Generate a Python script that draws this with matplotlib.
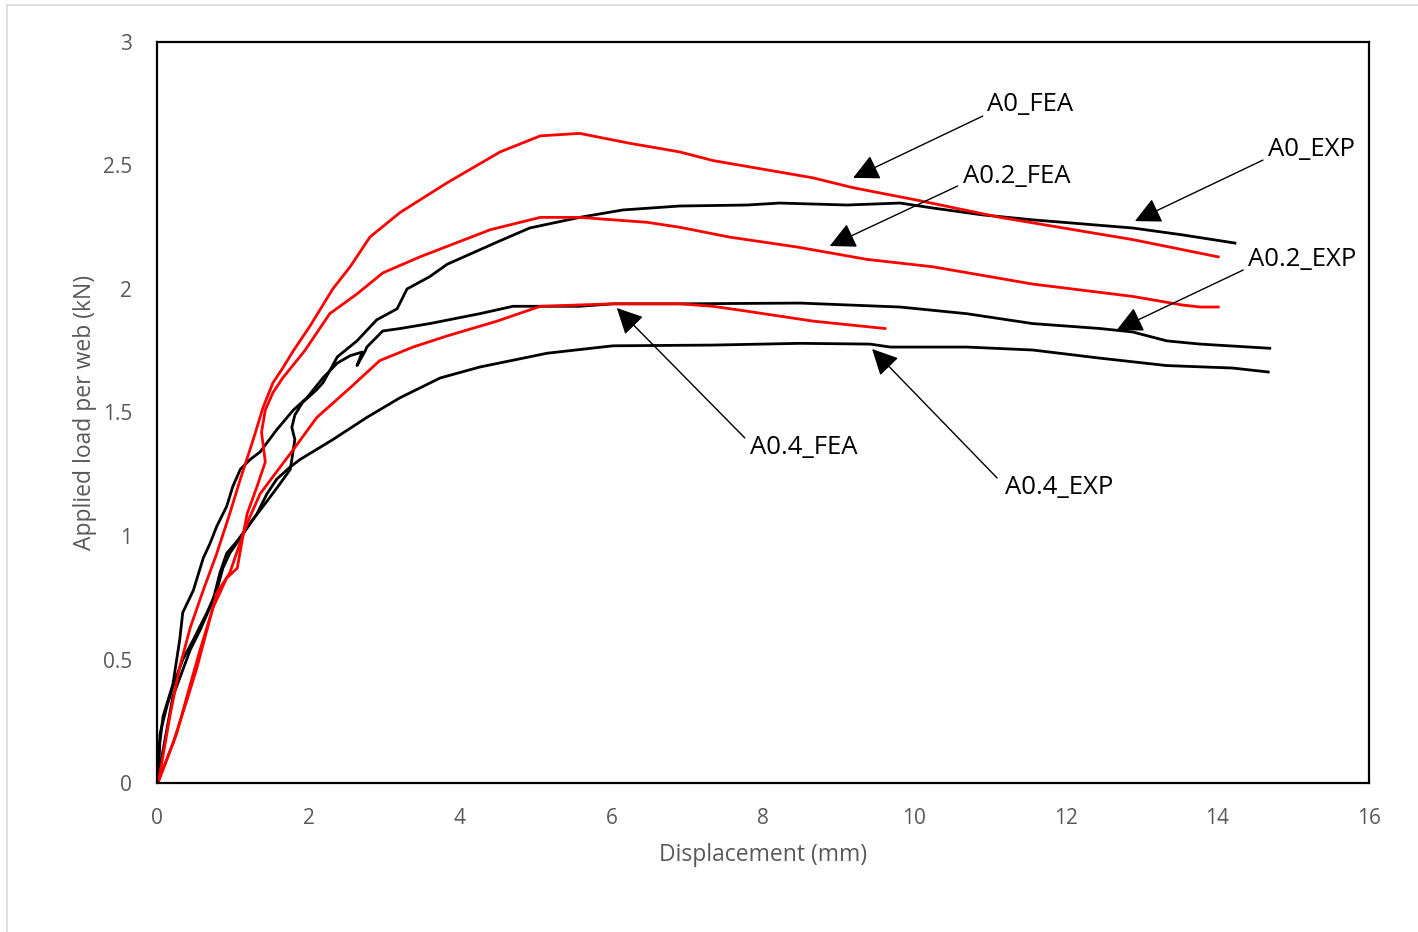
import numpy as np
import matplotlib
matplotlib.use("Agg")
import matplotlib.pyplot as plt
from matplotlib.lines import Line2D

plt.rcParams['font.family'] = ['Open Sans', 'DejaVu Sans']

# load-displacement curves (x: mm, y: kN)
a0_fea_x = [0.01, 0.04, 0.17, 0.30, 0.44, 0.61, 0.79, 0.96, 1.10, 1.27, 1.40, 1.53, 1.66, 1.80,
            2.02, 2.32, 2.55, 2.81, 3.21, 3.83, 4.53, 5.06, 5.58, 6.24, 6.90, 7.34, 8.66, 9.19,
            10.03, 11.13, 12.88, 14.01]
a0_fea_y = [0.0, 0.04, 0.27, 0.47, 0.63, 0.78, 0.93, 1.09, 1.23, 1.39, 1.52, 1.62, 1.68, 1.75,
            1.85, 2.00, 2.09, 2.21, 2.31, 2.43, 2.555, 2.62, 2.63, 2.59, 2.555, 2.52, 2.45, 2.41,
            2.36, 2.29, 2.20, 2.13]

a02_fea_x = [0.01, 0.26, 0.44, 0.57, 0.74, 0.92, 1.06, 1.14, 1.19, 1.32, 1.43, 1.38, 1.43, 1.53,
             1.66, 1.95, 2.28, 2.64, 2.98, 3.47, 4.40, 5.06, 5.58, 6.47, 6.90, 7.56, 8.45, 9.37,
             10.24, 11.56, 12.88, 13.54, 13.77, 14.01]
a02_fea_y = [0.0, 0.20, 0.40, 0.54, 0.71, 0.83, 0.87, 1.01, 1.09, 1.20, 1.30, 1.42, 1.51, 1.58,
             1.64, 1.75, 1.90, 1.98, 2.065, 2.13, 2.24, 2.29, 2.29, 2.27, 2.25, 2.21, 2.17, 2.12,
             2.09, 2.02, 1.97, 1.935, 1.927, 1.927]

a04_fea_x = [0.01, 0.21, 0.40, 0.53, 0.66, 0.79, 0.96, 1.14, 1.23, 1.36, 1.53, 1.80, 2.11, 2.55,
             2.94, 3.38, 3.83, 4.49, 5.06, 6.02, 6.90, 7.34, 7.79, 8.66, 9.61]
a04_fea_y = [0.0, 0.16, 0.34, 0.47, 0.62, 0.77, 0.85, 1.01, 1.08, 1.17, 1.24, 1.35, 1.48, 1.60,
             1.71, 1.765, 1.81, 1.87, 1.93, 1.94, 1.94, 1.93, 1.91, 1.87, 1.84]

a0_exp_x = [0.0, 0.21, 0.44, 0.57, 0.74, 0.83, 0.92, 1.06, 1.25, 1.45, 1.62, 1.76, 1.82, 1.78,
            1.82, 1.92, 2.10, 2.19, 2.30, 2.38, 2.64, 2.90, 3.17, 3.30, 3.60, 3.83, 4.49, 4.92,
            5.58, 6.15, 6.90, 7.79, 8.22, 9.11, 9.81, 10.24, 10.90, 11.56, 12.88, 13.54, 14.23]
a0_exp_y = [0.0, 0.35, 0.54, 0.62, 0.74, 0.85, 0.93, 0.98, 1.06, 1.14, 1.21, 1.27, 1.39, 1.44,
            1.49, 1.54, 1.59, 1.62, 1.68, 1.725, 1.79, 1.875, 1.92, 2.00, 2.05, 2.10, 2.19, 2.247,
            2.29, 2.32, 2.336, 2.34, 2.348, 2.34, 2.348, 2.328, 2.30, 2.28, 2.247, 2.219, 2.186]

a02_exp_x = [0.0, 0.04, 0.08, 0.21, 0.30, 0.34, 0.48, 0.61, 0.70, 0.79, 0.92, 1.00, 1.10, 1.23,
             1.36, 1.58, 1.80, 1.98, 2.19, 2.38, 2.55, 2.71, 2.64, 2.75, 2.77, 2.98, 3.21, 3.60,
             4.26, 4.70, 5.58, 6.02, 6.90, 8.49, 9.81, 10.69, 11.56, 12.45, 12.88, 13.33, 13.77,
             14.69]
a02_exp_y = [0.0, 0.17, 0.27, 0.40, 0.58, 0.69, 0.78, 0.91, 0.97, 1.04, 1.12, 1.20, 1.27, 1.31,
             1.34, 1.43, 1.51, 1.56, 1.64, 1.70, 1.73, 1.745, 1.69, 1.75, 1.765, 1.83, 1.84, 1.86,
             1.90, 1.93, 1.93, 1.94, 1.94, 1.943, 1.927, 1.90, 1.86, 1.84, 1.826, 1.79, 1.777,
             1.76]

a04_exp_x = [0.01, 0.04, 0.13, 0.21, 0.34, 0.48, 0.66, 0.79, 0.87, 0.96, 1.14, 1.32, 1.45, 1.58,
             1.76, 1.89, 2.32, 2.77, 3.21, 3.74, 4.26, 5.15, 6.02, 7.34, 8.49, 9.41, 9.68, 10.69,
             11.56, 12.45, 13.33, 14.20, 14.67]
a04_exp_y = [0.01, 0.20, 0.31, 0.39, 0.50, 0.58, 0.69, 0.78, 0.87, 0.93, 1.01, 1.09, 1.17, 1.23,
             1.28, 1.31, 1.39, 1.48, 1.56, 1.64, 1.684, 1.74, 1.77, 1.773, 1.78, 1.777, 1.765,
             1.765, 1.753, 1.72, 1.69, 1.68, 1.664]

# call-out labels: text anchor, arrow tail, arrow head (data coords)
labels = ['A0_FEA', 'A0.2_FEA', 'A0_EXP', 'A0.2_EXP', 'A0.4_FEA', 'A0.4_EXP']
label_pos = [(10.96, 2.745), (10.64, 2.457), (14.67, 2.563), (14.40, 2.12), (7.83, 1.36), (11.19, 1.198)]
arrow_tail = [(10.90, 2.70), (10.57, 2.417), (14.60, 2.522), (14.34, 2.077), (7.76, 1.397), (11.09, 1.235)]
arrow_head = [(9.19, 2.45), (8.88, 2.174), (12.91, 2.275), (12.67, 1.834), (6.07, 1.923), (9.44, 1.757)]

fig = plt.figure(figsize=(14.18, 9.32), dpi=100)
ax = fig.add_axes([157/1418, 149/932, 1212/1418, 741/932])

lw = 2.0
ax.plot(a0_exp_x, a0_exp_y, color='black', lw=lw)
ax.plot(a02_exp_x, a02_exp_y, color='black', lw=lw)
ax.plot(a04_exp_x, a04_exp_y, color='black', lw=lw)
ax.plot(a0_fea_x, a0_fea_y, color='#ff0000', lw=lw)
ax.plot(a02_fea_x, a02_fea_y, color='#ff0000', lw=lw)
ax.plot(a04_fea_x, a04_fea_y, color='#ff0000', lw=lw)

for lab, tp, tail, head in zip(labels, label_pos, arrow_tail, arrow_head):
    ax.annotate('', xy=head, xytext=tail,
                arrowprops=dict(arrowstyle='-|>,head_length=0.8,head_width=0.4',
                                color='black', lw=1.0, mutation_scale=20,
                                shrinkA=0, shrinkB=0))
    ax.text(tp[0], tp[1], lab, fontsize=18.5, ha='left', va='center', color='black')

ax.set_xlim(0, 16)
ax.set_ylim(0, 3)
ax.set_xticks(np.arange(0, 17, 2))
ax.set_yticks([0, 0.5, 1, 1.5, 2, 2.5, 3])
ax.set_yticklabels(['0', '0.5', '1', '1.5', '2', '2.5', '3'])
ax.tick_params(length=0, labelsize=15, labelcolor='#595959')
ax.tick_params(axis='x', pad=18)
ax.tick_params(axis='y', pad=18)
for s in ax.spines.values():
    s.set_linewidth(1.6)
    s.set_color('black')

ax.set_xlabel('Displacement (mm)', fontsize=16.5, color='#595959', labelpad=10)
ax.set_ylabel('Applied load per web (kN)', fontsize=16.5, color='#595959', labelpad=4)

# light outer frame of the chart area
fig.add_artist(Line2D([7/1418, 7/1418], [0, 1 - 5/932], transform=fig.transFigure, color='#d9d9d9', lw=1.2))
fig.add_artist(Line2D([7/1418, 1], [1 - 5/932, 1 - 5/932], transform=fig.transFigure, color='#d9d9d9', lw=1.2))

fig.savefig('out.png', dpi=100)
